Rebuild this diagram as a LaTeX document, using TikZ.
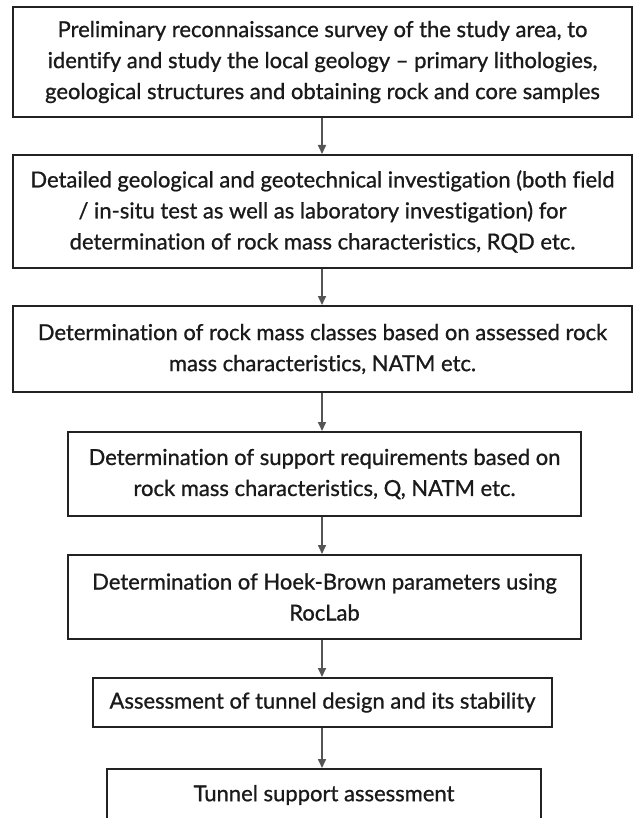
\documentclass[tikz,border=0pt]{standalone}
\usepackage{fontspec}
\setmainfont{Lato}[Ligatures=NoCommon]
\newfontfamily\boxfont{Lato}[Ligatures=NoCommon, FakeBold=0.9]
\usetikzlibrary{arrows.meta}
\definecolor{boxline}{HTML}{222222}
\definecolor{arrowgray}{HTML}{555555}
\definecolor{txt}{HTML}{1A1A1A}
\tikzset{
  stepbox/.style={draw=boxline, line width=2pt, fill=white, text=txt, align=center,
    inner sep=0pt, font=\boxfont\fontsize{22}{31}\selectfont},
  flowarrow/.style={draw=arrowgray, line width=1.6pt,
    -{Triangle[length=9pt,width=8pt]}}
}
\begin{document}
\begin{tikzpicture}[x=1pt,y=-1pt]
\useasboundingbox (0,0) rectangle (633,818);
\clip (0,0) rectangle (633,818);
\node[stepbox, minimum width=619pt, minimum height=110pt] (b1) at (322.5,62)
  {Preliminary reconnaissance survey of the study area, to\\
   identify and study the local geology – primary lithologies,\\
   geological structures and obtaining rock and core samples};
\node[stepbox, minimum width=619pt, minimum height=113pt] (b2) at (322.5,211.5)
  {Detailed geological and geotechnical investigation (both field\\
   / in-situ test as well as laboratory investigation) for\\
   determination of rock mass characteristics, RQD etc.};
\node[stepbox, minimum width=619pt, minimum height=86pt] (b3) at (322.5,349)
  {Determination of rock mass classes based on assessed rock\\
   mass characteristics, NATM etc.};
\node[stepbox, minimum width=513pt, minimum height=84pt] (b4) at (324.5,474)
  {Determination of support requirements based on\\
   rock mass characteristics, Q, NATM etc.};
\node[stepbox, minimum width=513pt, minimum height=84pt] (b5) at (324.5,597)
  {Determination of Hoek-Brown parameters using\\
   RocLab};
\node[stepbox, minimum width=459pt, minimum height=49pt] (b6) at (322.5,702.5)
  {Assessment of tunnel design and its stability};
\node[stepbox, minimum width=434pt, minimum height=52pt] (b7) at (324,795)
  {Tunnel support assessment};
\coordinate (ax) at (322,0);
\draw[flowarrow] (ax |- b1.south) -- (ax |- b2.north);
\draw[flowarrow] (ax |- b2.south) -- (ax |- b3.north);
\draw[flowarrow] (ax |- b3.south) -- (ax |- b4.north);
\draw[flowarrow] (ax |- b4.south) -- (ax |- b5.north);
\draw[flowarrow] (ax |- b5.south) -- (ax |- b6.north);
\draw[flowarrow] (ax |- b6.south) -- (ax |- b7.north);
\end{tikzpicture}
\end{document}
